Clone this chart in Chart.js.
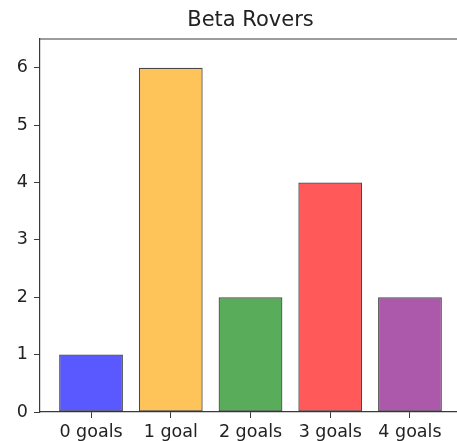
<!DOCTYPE html>
<html>
<head>
<meta charset="utf-8">
<script src="https://cdn.jsdelivr.net/npm/chart.js@4"></script>
<style>
  html, body { margin: 0; padding: 0; overflow: hidden; background: #fff; }
  #wrap { width: 457px; height: 441px; overflow: hidden; }
</style>
</head>
<body>
<div id="wrap"><canvas id="grafico" width="470" height="441"></canvas></div>
<script>
// dados do gráfico
const categorias = ["0 goals", "1 goal", "2 goals", "3 goals", "4 goals"];
const valores = [1, 6, 2, 4, 2];
const ticksY = [0, 1, 2, 3, 4, 5, 6];
const cores = ["rgba(0,0,255,0.65)", "rgba(255,165,0,0.65)", "rgba(0,128,0,0.65)", "rgba(255,0,0,0.65)", "rgba(128,0,128,0.65)"];

const corEixo = "#3a3a3a";
const fonte = "'DejaVu Sans', sans-serif";

// linha superior do quadro (spine de cima)
const linhaTopo = {
  id: "linhaTopo",
  afterDraw(chart) {
    const a = chart.chartArea;
    const c = chart.ctx;
    c.save();
    c.strokeStyle = corEixo;
    c.lineWidth = 1.2;
    c.beginPath();
    c.moveTo(a.left, a.top);
    c.lineTo(a.right, a.top);
    c.stroke();
    c.restore();
  }
};

document.addEventListener("DOMContentLoaded", function () {
  const ctx = document.getElementById("grafico").getContext("2d");

  new Chart(ctx, {
    type: "bar",
    data: {
      datasets: [{
        data: valores.map((v, i) => ({ x: i, y: v })),
        backgroundColor: cores,
        borderColor: "rgba(40,40,40,0.85)",
        borderWidth: 1.2,
        borderSkipped: false,
        barPercentage: 0.8,
        categoryPercentage: 1
      }]
    },
    options: {
      responsive: false,
      animation: false,
      events: [],
      layout: { padding: { left: 0, right: 9, top: 0, bottom: 0 } },
      scales: {
        x: {
          type: "linear",
          min: -0.64,
          max: 4.64,
          offset: false,
          afterBuildTicks: s => { s.ticks = categorias.map((c, i) => ({ value: i })); },
          afterFit: s => { s.height = 29; },
          ticks: {
            callback: v => categorias[v],
            autoSkip: false,
            maxRotation: 0,
            padding: 4,
            color: "#222",
            font: { family: fonte, size: 17.5 }
          },
          grid: { offset: false, drawOnChartArea: false, tickLength: 6, color: corEixo },
          border: { color: corEixo, width: 1.2 }
        },
        y: {
          min: 0,
          max: 6.5,
          afterBuildTicks: s => { s.ticks = ticksY.map(v => ({ value: v })); },
          afterFit: s => { s.width = 40; },
          ticks: {
            padding: 6,
            color: "#222",
            font: { family: fonte, size: 17.5 }
          },
          grid: { drawOnChartArea: false, tickLength: 6, color: corEixo },
          border: { color: corEixo, width: 1.2 }
        }
      },
      plugins: {
        legend: { display: false },
        tooltip: { enabled: false },
        title: {
          display: true,
          text: "Beta Rovers",
          fullSize: false,
          color: "#222",
          font: { family: fonte, size: 21, weight: "normal" },
          padding: { top: 8, bottom: 5.8 }
        }
      }
    },
    plugins: [linhaTopo]
  });
});
</script>
</body>
</html>
